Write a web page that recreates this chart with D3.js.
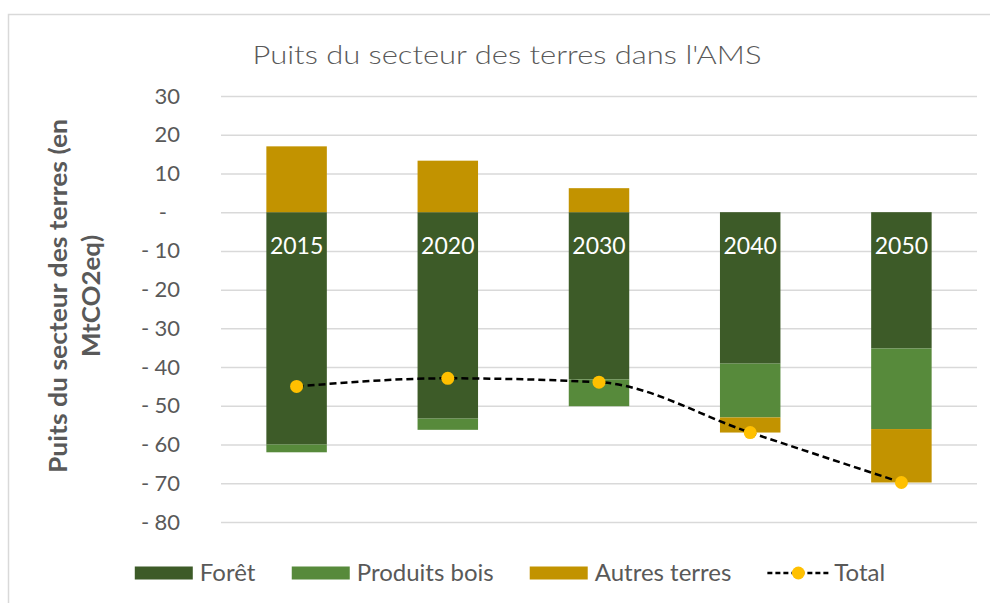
<!DOCTYPE html>
<html>
<head>
<meta charset="utf-8">
<script src="https://cdn.jsdelivr.net/npm/d3@7"></script>
<style>
  body { margin: 0; background: #fff; }
  text { font-family: Lato, "Open Sans", sans-serif; fill: #595959; }
</style>
</head>
<body>
<div id="chart"></div>
<script>
  // donnees
  var annees = ["2015", "2020", "2030", "2040", "2050"];
  var series = ["Forêt", "Produits bois", "Autres terres"];
  var foret = [-60, -53.3, -43.2, -39.1, -35.2];
  var produitsBois = [-2, -2.9, -6.9, -13.9, -20.8];
  var autresTerres = [17, 13.3, 6.2, -3.9, -13.8];
  var total = [-45, -42.9, -43.9, -56.9, -69.8];
  var yTicks = [30, 20, 10, 0, -10, -20, -30, -40, -50, -60, -70, -80];

  var couleurs = ["#3d5b28", "#578a3b", "#c29300"];

  var width = 990, height = 603;
  var plot = { left: 221, right: 977, top: 96, bottom: 522 };

  var svg = d3.select("#chart").append("svg")
      .attr("width", width)
      .attr("height", height);

  // cadre
  svg.append("rect")
      .attr("x", 8.5).attr("y", 14.5)
      .attr("width", 1000).attr("height", 620)
      .attr("fill", "none")
      .attr("stroke", "#d9d9d9")
      .attr("stroke-width", 1.5);

  var x = d3.scaleBand()
      .domain(annees)
      .range([plot.left, plot.right])
      .paddingInner(0.6)
      .paddingOuter(0.3);

  var y = d3.scaleLinear()
      .domain([-80, 30])
      .range([plot.bottom, plot.top]);

  // titre
  svg.append("text")
      .attr("x", 507).attr("y", 64)
      .attr("text-anchor", "middle")
      .style("font-size", "26px")
      .style("font-weight", "300")
      .attr("textLength", 509)
      .attr("lengthAdjust", "spacingAndGlyphs")
      .text("Puits du secteur des terres dans l'AMS");

  // axe y + grille
  var axeY = svg.append("g")
      .attr("transform", "translate(" + plot.left + ",0)")
      .call(d3.axisLeft(y)
        .tickValues(yTicks)
        .tickSize(-(plot.right - plot.left))
        .tickPadding(41)
        .tickFormat(function(d) { return d === 0 ? "-" : Math.abs(d); }));

  axeY.select(".domain").remove();
  axeY.selectAll(".tick line")
      .attr("stroke", "#d9d9d9")
      .attr("stroke-width", 1.5);
  axeY.selectAll(".tick text")
      .style("font-size", "22px")
      .attr("fill", "#595959")
      .attr("x", function(d) { return d === 0 ? -54 : -41; });
  // format comptable : signe moins a gauche
  axeY.selectAll(".tick")
      .filter(function(d) { return d < 0; })
      .append("text")
      .attr("x", -80)
      .attr("dy", "0.32em")
      .attr("text-anchor", "start")
      .style("font-size", "22px")
      .text("-");

  // titre axe y
  var yTitre = svg.append("text")
      .attr("transform", "translate(0,296) rotate(-90)")
      .attr("text-anchor", "middle")
      .style("font-size", "25px")
      .style("font-weight", "bold");
  yTitre.append("tspan")
      .attr("x", 0).attr("y", 67)
      .attr("textLength", 354)
      .attr("lengthAdjust", "spacingAndGlyphs")
      .text("Puits du secteur des terres (en");
  yTitre.append("tspan")
      .attr("x", 0).attr("y", 100)
      .attr("textLength", 122)
      .attr("lengthAdjust", "spacingAndGlyphs")
      .text("MtCO2eq)");

  // barres empilees
  var lignes = annees.map(function(a, i) {
    return { annee: a, "Forêt": foret[i], "Produits bois": produitsBois[i], "Autres terres": autresTerres[i] };
  });
  var stack = d3.stack().keys(series).offset(d3.stackOffsetDiverging);
  var empile = stack(lignes);

  svg.append("g")
    .selectAll("g")
    .data(empile)
    .join("g")
      .attr("fill", function(d, i) { return couleurs[i]; })
    .selectAll("rect")
    .data(function(d) { return d; })
    .join("rect")
      .attr("x", function(d) { return x(d.data.annee); })
      .attr("width", x.bandwidth())
      .attr("y", function(d) { return y(Math.max(d[0], d[1])); })
      .attr("height", function(d) { return Math.abs(y(d[0]) - y(d[1])); });

  // etiquettes des annees
  var axeX = svg.append("g")
      .attr("transform", "translate(0," + y(0) + ")")
      .call(d3.axisBottom(x).tickSize(0).tickPadding(25));
  axeX.select(".domain").remove();
  axeX.selectAll(".tick text")
      .style("font-size", "23px")
      .style("fill", "#ffffff");

  // total
  var ligne = d3.line()
      .x(function(d, i) { return x(annees[i]) + x.bandwidth() / 2; })
      .y(function(d) { return y(d); })
      .curve(d3.curveMonotoneX);

  svg.append("path")
      .datum(total)
      .attr("d", ligne)
      .attr("fill", "none")
      .attr("stroke", "#000")
      .attr("stroke-width", 2.5)
      .attr("stroke-dasharray", "7,4");

  svg.append("g")
    .selectAll("circle")
    .data(total)
    .join("circle")
      .attr("cx", function(d, i) { return x(annees[i]) + x.bandwidth() / 2; })
      .attr("cy", function(d) { return y(d); })
      .attr("r", 6.5)
      .attr("fill", "#ffc000");

  // legende
  var legendeItems = series.concat(["Total"]);
  var legende = svg.append("g").attr("transform", "translate(0,573)");
  var pos = 0;
  var items = legende.selectAll("g")
      .data(legendeItems)
      .join("g");
  items.each(function(d, i) {
    var g = d3.select(this);
    if (i < 3) {
      g.append("rect")
        .attr("x", 0).attr("y", -6.5)
        .attr("width", 58).attr("height", 13)
        .attr("fill", couleurs[i]);
    } else {
      g.append("line")
        .attr("x1", 0).attr("x2", 62)
        .attr("stroke", "#000")
        .attr("stroke-width", 2.5)
        .attr("stroke-dasharray", "5,3");
      g.append("circle")
        .attr("cx", 31).attr("r", 6.5)
        .attr("fill", "#ffc000");
    }
    g.append("text")
      .attr("x", i < 3 ? 65 : 67)
      .attr("dy", "0.35em")
      .style("font-size", "24px")
      .text(d);
  });
  // positions sequentielles
  items.each(function(d, i) {
    var w = this.getBBox().width;
    d3.select(this).attr("transform", "translate(" + pos + ",0)");
    pos += w + 36;
  });
  var largeur = pos - 36;
  legende.attr("transform", "translate(" + (510 - largeur / 2) + ",573)");
</script>
</body>
</html>
